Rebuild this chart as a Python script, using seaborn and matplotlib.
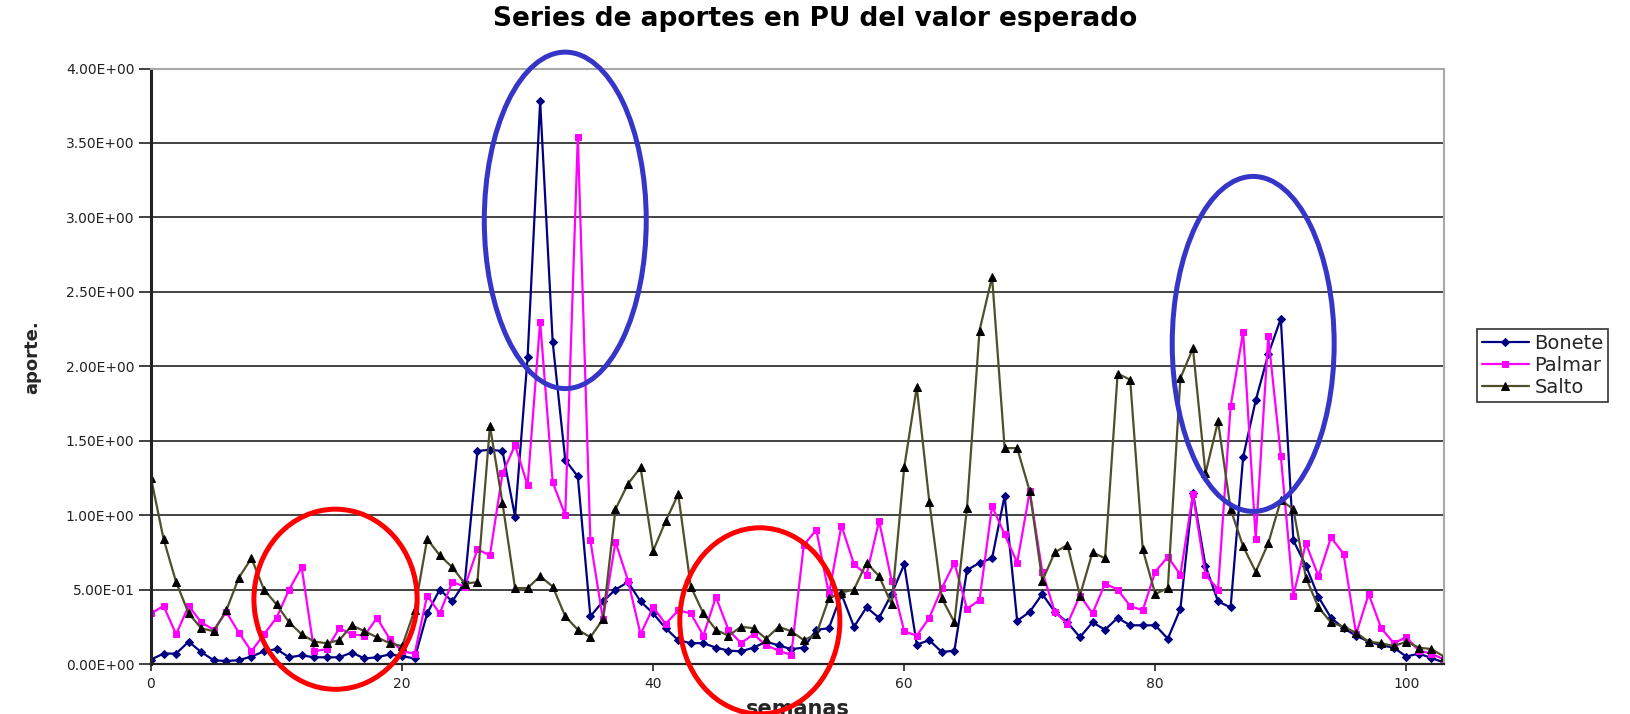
import numpy as np
import pandas as pd
import matplotlib
matplotlib.use("Agg")
import matplotlib.pyplot as plt
from matplotlib.patches import Ellipse
from matplotlib.ticker import FuncFormatter, MultipleLocator
import seaborn as sns

# weekly inflows in PU of the expected value
semanas = list(range(104))

bonete = [0.03, 0.07, 0.07, 0.15, 0.08, 0.025, 0.02, 0.026, 0.05, 0.085,
          0.10, 0.045, 0.058, 0.045, 0.045, 0.045, 0.077, 0.037, 0.045, 0.064,
          0.053, 0.037, 0.34, 0.50, 0.42, 0.55, 1.43, 1.44, 1.43, 0.99,
          2.06, 3.78, 2.16, 1.37, 1.26, 0.32, 0.42, 0.50, 0.55, 0.42,
          0.34, 0.24, 0.16, 0.14, 0.14, 0.11, 0.09, 0.085, 0.11, 0.15,
          0.125, 0.10, 0.11, 0.23, 0.24, 0.47, 0.25, 0.38, 0.31, 0.47,
          0.67, 0.13, 0.16, 0.08, 0.09, 0.63, 0.68, 0.71, 1.13, 0.29,
          0.35, 0.47, 0.35, 0.28, 0.18, 0.28, 0.23, 0.31, 0.26, 0.26,
          0.26, 0.17, 0.37, 1.15, 0.66, 0.42, 0.38, 1.39, 1.77, 2.08,
          2.32, 0.83, 0.66, 0.45, 0.31, 0.24, 0.19, 0.15, 0.125, 0.11,
          0.05, 0.07, 0.04, 0.01]

palmar = [0.34, 0.39, 0.20, 0.39, 0.28, 0.23, 0.35, 0.21, 0.085, 0.20,
          0.31, 0.50, 0.65, 0.085, 0.10, 0.24, 0.20, 0.19, 0.31, 0.17,
          0.085, 0.07, 0.46, 0.34, 0.55, 0.52, 0.77, 0.73, 1.28, 1.47,
          1.20, 2.30, 1.22, 1.00, 3.54, 0.83, 0.30, 0.82, 0.56, 0.20,
          0.38, 0.27, 0.36, 0.34, 0.19, 0.45, 0.23, 0.14, 0.20, 0.125,
          0.09, 0.06, 0.80, 0.90, 0.47, 0.93, 0.67, 0.60, 0.96, 0.56,
          0.22, 0.19, 0.31, 0.51, 0.68, 0.37, 0.43, 1.06, 0.87, 0.68,
          1.16, 0.62, 0.35, 0.27, 0.46, 0.34, 0.54, 0.50, 0.39, 0.36,
          0.62, 0.72, 0.60, 1.14, 0.60, 0.50, 1.73, 2.23, 0.84, 2.20,
          1.40, 0.46, 0.81, 0.59, 0.85, 0.74, 0.20, 0.47, 0.24, 0.14,
          0.18, 0.09, 0.07, 0.03]

salto = [1.25, 0.84, 0.55, 0.34, 0.24, 0.22, 0.36, 0.58, 0.71, 0.50,
         0.40, 0.28, 0.20, 0.15, 0.14, 0.16, 0.26, 0.22, 0.18, 0.14,
         0.12, 0.36, 0.84, 0.73, 0.65, 0.54, 0.55, 1.60, 1.08, 0.51,
         0.51, 0.59, 0.52, 0.32, 0.23, 0.18, 0.30, 1.04, 1.21, 1.32,
         0.76, 0.96, 1.14, 0.52, 0.34, 0.23, 0.19, 0.25, 0.24, 0.17,
         0.25, 0.22, 0.16, 0.20, 0.44, 0.48, 0.50, 0.68, 0.59, 0.40,
         1.32, 1.86, 1.09, 0.44, 0.28, 1.05, 2.24, 2.60, 1.45, 1.45,
         1.16, 0.56, 0.75, 0.80, 0.46, 0.75, 0.71, 1.95, 1.91, 0.77,
         0.47, 0.51, 1.92, 2.12, 1.28, 1.63, 1.04, 0.79, 0.62, 0.81,
         1.10, 1.04, 0.58, 0.38, 0.28, 0.25, 0.21, 0.15, 0.14, 0.12,
         0.15, 0.11, 0.10, 0.05]

# highlighted zones: (center week, center value, width in weeks, height in PU)
zonas_azules = [(33.0, 2.98, 12.9, 2.26), (87.8, 2.15, 12.9, 2.25)]
zonas_rojas = [(14.7, 0.435, 13.0, 1.21), (48.5, 0.29, 12.75, 1.25)]

sns.set_style("white")
plt.rcParams["font.family"] = ["DejaVu Sans"]

fig = plt.figure(figsize=(16.31, 7.14), dpi=100)
ax = fig.add_axes([151 / 1631, 1 - 664 / 714, 1293 / 1631, 595.5 / 714])

series = [
    ("Bonete", bonete, "#000080", "D", 4.5, "#000080"),
    ("Palmar", palmar, "#FF00FF", "s", 4.5, "#FF00FF"),
    ("Salto", salto, "#4F4F2C", "^", 5.5, "#000000"),
]
for name, vals, col, mk, ms, mcol in series:
    sns.lineplot(x=semanas, y=vals, ax=ax, color=col, lw=1.6, marker=mk,
                 markersize=ms, markerfacecolor=mcol, markeredgecolor=mcol,
                 errorbar=None, legend=False, label=name)

handles = list(ax.lines[:3])

for cx, cy, w, h in zonas_azules:
    ax.add_patch(Ellipse((cx, cy), w, h, fill=False, edgecolor="#3535C8",
                         lw=3.6, clip_on=False, zorder=5))
for cx, cy, w, h in zonas_rojas:
    ax.add_patch(Ellipse((cx, cy), w, h, fill=False, edgecolor="#FF0000",
                         lw=3.6, clip_on=False, zorder=5))

ax.set_xlim(0, 103)
ax.set_ylim(0, 4)
ax.xaxis.set_major_locator(MultipleLocator(20))
ax.yaxis.set_major_locator(MultipleLocator(0.5))
ax.yaxis.set_major_formatter(FuncFormatter(lambda v, p: f"{v:.2E}"))

ax.grid(axis="y", color="#111111", lw=1.1)
ax.grid(axis="x", visible=False)
ax.yaxis.get_gridlines()[-1].set_visible(False)

for side in ["top", "right"]:
    ax.spines[side].set_color("#A8A8A8")
    ax.spines[side].set_linewidth(1.5)
ax.spines["left"].set_color("#222222")
ax.spines["left"].set_linewidth(2.2)
ax.spines["bottom"].set_color("#222222")
ax.spines["bottom"].set_linewidth(1.6)

ax.tick_params(axis="y", direction="out", length=9, width=1.2, colors="#222222",
               labelsize=10, pad=3, left=True)
ax.tick_params(axis="x", direction="out", length=5, width=1.2, colors="#222222",
               labelsize=10, pad=4, bottom=True)

fig.text(815 / 1631, 1 - 19 / 714, "Series de aportes en PU del valor esperado",
         ha="center", va="center", fontsize=19, fontweight="bold", color="black")

ax.set_ylabel("aporte.", fontsize=13, fontweight="bold")
ax.yaxis.set_label_coords(-0.085, 0.515)
ax.set_xlabel("semanas", fontsize=15, fontweight="bold", va="top")
ax.xaxis.set_label_coords(0.5, -0.058)

leg = ax.legend(handles, ["Bonete", "Palmar", "Salto"], loc="upper left",
                bbox_to_anchor=(1477 / 1631, 1 - 329 / 714),
                bbox_transform=fig.transFigure, borderaxespad=0, fontsize=14,
                frameon=True, fancybox=False, edgecolor="black",
                labelspacing=0.15, borderpad=0.25, handlelength=2.4,
                handletextpad=0.3)
leg.get_frame().set_linewidth(1.2)

fig.savefig("out.png", dpi=100)
